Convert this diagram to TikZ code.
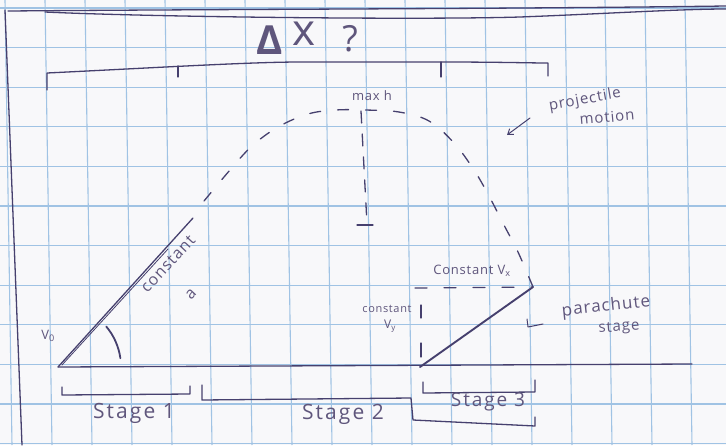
\documentclass[tikz,border=0pt]{standalone}
\usepackage{fontspec}
\setmainfont{Open Sans}
\usetikzlibrary{arrows.meta}
\definecolor{ink}{RGB}{70,64,110}
\definecolor{txt}{RGB}{95,86,124}
\definecolor{gridc}{RGB}{160,195,228}
\definecolor{paper}{RGB}{248,248,250}
\begin{document}
\begin{tikzpicture}[x=1pt,y=-1pt,
  pen/.style={draw=ink,line width=1.3pt,line cap=round,line join=round},
  dashpen/.style={pen,dash pattern=on 11pt off 17pt},
  lbl/.style={text=txt,inner sep=0pt},
  sz/.style={font=\fontsize{#1}{#1}\selectfont\addfontfeature{LetterSpace=6}},
  wide/.style={font=\fontsize{#1}{#1}\selectfont\addfontfeature{LetterSpace=10}},
]
\fill[paper] (0,0) rectangle (726,445);
\useasboundingbox (0,0) rectangle (726,445);
% graph paper
\foreach \k in {0,...,17} \draw[gridc,line width=1.1pt] ({5+40*\k},0) -- ({12+40*\k},445);
\foreach \k in {0,...,11} \draw[gridc,line width=1.1pt] (0,{8+39.6*\k}) -- (726,{8+39.6*\k});
% page border lines
\draw[pen] (5,10) -- (22,445);
\draw[pen] (8,11) .. controls (250,9) and (500,9) .. (726,6);
\draw[pen] (45,12) .. controls (150,17) and (420,20) .. (520,17) .. controls (600,14) and (680,9) .. (726,9);
% Delta x ?
\node[lbl,font=\fontsize{40}{40}\selectfont\bfseries] (delta) at (270,40) {Δ};
\node[lbl,font=\fontsize{44}{44}\selectfont] (xx) at (304,34) {x};
\node[lbl,font=\fontsize{36}{36}\selectfont] (q) at (350,39) {?};
% top bracket
\draw[pen] (47,90) -- (47,73) .. controls (150,68) and (250,62) .. (300,62) -- (440,62) .. controls (500,62) and (530,63) .. (548,63) -- (548,76);
\draw[pen] (178,66) -- (178,77);
\draw[pen] (441,62) -- (441,77);
% key points
\coordinate (O) at (58,367);
\coordinate (A) at (193,218);
\coordinate (P) at (533,287);
\coordinate (L) at (420,367);
\coordinate (G) at (692,364);
\coordinate (T) at (361,111);
\coordinate (B) at (367,224);
\coordinate (V1) at (421,305);
\coordinate (V2) at (421,318);
\coordinate (V3) at (421,343);
\coordinate (V4) at (421,357);
% ground
\draw[pen] (O) -- (G);
% stage 1 launch line
\draw[pen] (O) -- (A);
\draw[pen,line width=0.8pt] (62,365) -- (168,249);
\draw[pen,line width=1.8pt] (O) ++(-40:63) arc[start angle=-40,end angle=-8,radius=63];
\node[lbl,sz=13] (v0) at (48,336) {V\textsubscript{0}};
\node[lbl,sz=16,rotate=47] (ca) at (168,264) {constant};
\node[lbl,sz=16,rotate=47] (aa) at (191,294) {a};
% projectile arc
\draw[dashpen] plot[smooth,tension=0.6] coordinates {(204,201) (230,170) (252,146) (278,127) (308,114) (336,110) (365,110) (399,112) (429,121) (454,143) (474,170) (489,196) (505,227) (518,252) (P)};
% max h
\node[lbl,sz=13] (maxh) at (372,96) {max h};
\draw[pen,dash pattern=on 12pt off 11pt] (T) -- (B);
\draw[pen] (357,225) -- (373,225);
% projectile motion label
\node[lbl,sz=15,rotate=10] (proj) at (585,100) {projectile};
\node[lbl,sz=15,rotate=5] (mot) at (607,117) {motion};
\draw[pen,line width=1pt,-{Straight Barb[length=5pt,width=7pt]}] (530,118) -- (507,135);
% stage 3
\node[lbl,sz=13] (cvx) at (472,271) {Constant V\textsubscript{x}};
\draw[pen,dash pattern=on 12pt off 17pt] (415,288) -- (P);
\draw[pen] (V1) -- (V2);
\draw[pen] (V3) -- (V4);
\node[lbl,sz=11] (cst) at (387,309) {constant};
\node[lbl,sz=12] (vy) at (390,326) {V\textsubscript{y}};
\draw[pen,line width=1.9pt] (L) -- (P);
\node[lbl,sz=17,rotate=6] (para) at (606,307) {parachute};
\node[lbl,sz=15,rotate=4] (stg) at (619,328) {stage};
\draw[pen,line width=1pt] (527,319) -- (528,327) -- (543,324);
% stage brackets
\draw[pen] (62,387) -- (62,395) -- (190,394) -- (190,386);
\node[lbl,wide=21] (s1) at (134,413) {Stage 1};
\draw[pen] (202,385) -- (202,400) -- (411,398) -- (413,420) -- (535,426) -- (535,417);
\node[lbl,wide=21] (s2) at (343,414) {Stage 2};
\draw[pen] (423,382) -- (423,393) -- (535,392) -- (535,380);
\node[lbl,wide=19] (s3) at (488,402) {Stage 3};
\end{tikzpicture}
\end{document}
